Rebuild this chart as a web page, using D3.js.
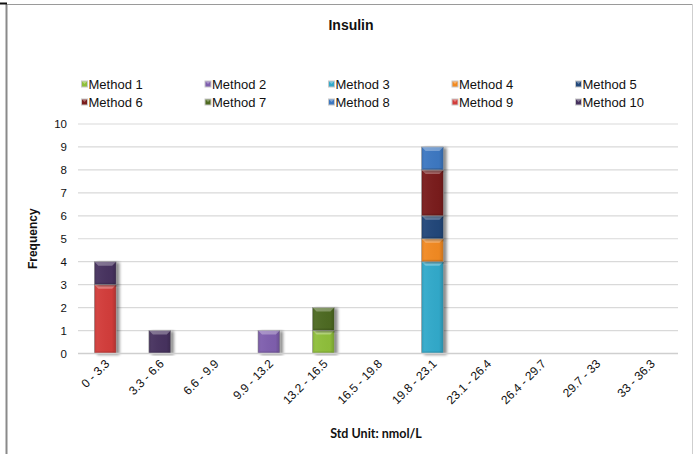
<!DOCTYPE html>
<html>
<head>
<meta charset="utf-8">
<script src="https://cdn.jsdelivr.net/npm/d3@7"></script>
<style>
  html, body { margin: 0; padding: 0; background: #fff; }
  svg { display: block; font-family: "Liberation Sans", Arial, sans-serif; }
</style>
</head>
<body>
<div id="chart"></div>
<script>
// data
const categories = ['0 - 3.3', '3.3 - 6.6', '6.6 - 9.9', '9.9 - 13.2', '13.2 - 16.5', '16.5 - 19.8',
    '19.8 - 23.1', '23.1 - 26.4', '26.4 - 29.7', '29.7 - 33', '33 - 36.3'];
const methods = ['Method 1', 'Method 2', 'Method 3', 'Method 4', 'Method 5',
    'Method 6', 'Method 7', 'Method 8', 'Method 9', 'Method 10'];
const method1  = [0, 0, 0, 0, 1, 0, 0, 0, 0, 0, 0];
const method2  = [0, 0, 0, 1, 0, 0, 0, 0, 0, 0, 0];
const method3  = [0, 0, 0, 0, 0, 0, 4, 0, 0, 0, 0];
const method4  = [0, 0, 0, 0, 0, 0, 1, 0, 0, 0, 0];
const method5  = [0, 0, 0, 0, 0, 0, 1, 0, 0, 0, 0];
const method6  = [0, 0, 0, 0, 0, 0, 2, 0, 0, 0, 0];
const method7  = [0, 0, 0, 0, 1, 0, 0, 0, 0, 0, 0];
const method8  = [0, 0, 0, 0, 0, 0, 1, 0, 0, 0, 0];
const method9  = [3, 0, 0, 0, 0, 0, 0, 0, 0, 0, 0];
const method10 = [1, 1, 0, 0, 0, 0, 0, 0, 0, 0, 0];
const yTicks = [0, 1, 2, 3, 4, 5, 6, 7, 8, 9, 10];

const colors = ['#8fbf3a', '#7f5fae', '#33aacb', '#f28a20', '#21477a',
    '#7a1d1d', '#4e6a20', '#3c78c2', '#d33d3a', '#46325e'];

const series = [method1, method2, method3, method4, method5, method6, method7, method8, method9, method10];
const table = categories.map((c, i) => {
    const row = { cat: c };
    methods.forEach((m, j) => row[m] = series[j][i]);
    return row;
});

const W = 697, H = 454;
const svg = d3.select('#chart').append('svg')
    .attr('width', W).attr('height', H);

const defs = svg.append('defs');
const shadow = defs.append('filter').attr('id', 'shadow')
    .attr('x', '-30%').attr('y', '-10%').attr('width', '170%').attr('height', '120%');
shadow.append('feGaussianBlur').attr('in', 'SourceAlpha').attr('stdDeviation', 1.8).attr('result', 'b');
shadow.append('feOffset').attr('in', 'b').attr('dx', 3).attr('dy', 1).attr('result', 'o');
shadow.append('feComponentTransfer').attr('in', 'o').attr('result', 's')
    .append('feFuncA').attr('type', 'linear').attr('slope', 0.45);
const merge = shadow.append('feMerge');
merge.append('feMergeNode').attr('in', 's');
merge.append('feMergeNode').attr('in', 'SourceGraphic');

const vGrad = defs.append('linearGradient').attr('id', 'vshade')
    .attr('x1', 0).attr('y1', 0).attr('x2', 1).attr('y2', 0);
vGrad.append('stop').attr('offset', '0%').attr('stop-color', '#000').attr('stop-opacity', 0.12);
vGrad.append('stop').attr('offset', '15%').attr('stop-color', '#fff').attr('stop-opacity', 0.04);
vGrad.append('stop').attr('offset', '80%').attr('stop-color', '#000').attr('stop-opacity', 0.02);
vGrad.append('stop').attr('offset', '100%').attr('stop-color', '#000').attr('stop-opacity', 0.18);

// frame
svg.append('line').attr('x1', 7).attr('x2', 692).attr('y1', 4.5).attr('y2', 4.5)
    .attr('stroke', '#9a9a9a').attr('stroke-width', 1);
svg.append('line').attr('x1', 6.5).attr('x2', 6.5).attr('y1', 4).attr('y2', H)
    .attr('stroke', '#8a8a8a').attr('stroke-width', 2);
svg.append('line').attr('x1', 692.5).attr('x2', 692.5).attr('y1', 4).attr('y2', H)
    .attr('stroke', '#cfcfcf').attr('stroke-width', 1);
svg.append('rect').attr('x', 0).attr('y', 2.5).attr('width', 7).attr('height', 2).attr('fill', '#111');

const margin = { left: 78, right: 678, top: 124, bottom: 353.5 };

const x = d3.scaleBand().domain(categories)
    .range([margin.left, margin.right]).paddingInner(0.6).paddingOuter(0.3);
const y = d3.scaleLinear().domain([0, 10]).range([margin.bottom, margin.top]);

// title
svg.append('text').attr('x', 351).attr('y', 30)
    .attr('text-anchor', 'middle').attr('font-weight', 'bold').attr('font-size', '14px')
    .attr('fill', '#111').text('Insulin');

// legend
const legend = svg.append('g');
methods.forEach((m, i) => {
    const lx = 81 + (i % 5) * 123.5;
    const ly = i < 5 ? 84 : 102;
    const g = legend.append('g').attr('transform', `translate(${lx},${ly})`);
    g.append('rect').attr('x', 0).attr('y', -3.5).attr('width', 7).attr('height', 7)
        .attr('fill', '#c8c8c8');
    g.append('rect').attr('x', 1).attr('y', -2.5).attr('width', 5).attr('height', 5)
        .attr('fill', colors[i]);
    g.append('path').attr('d', 'M1,-2.5 L6,-2.5 L3.5,0 Z').attr('fill', '#fff').attr('opacity', 0.35);
    g.append('text').attr('x', 7.5).attr('y', 4.5).attr('font-size', '13px').attr('fill', '#111').text(m);
});

// grid
svg.append('g')
    .selectAll('line').data(yTicks.filter(d => d > 0)).join('line')
    .attr('x1', margin.left).attr('x2', margin.right)
    .attr('y1', d => y(d)).attr('y2', d => y(d))
    .attr('stroke', '#d9d9d9').attr('stroke-width', 1.2);

// y axis
svg.append('g')
    .attr('transform', `translate(${margin.left},0)`)
    .call(d3.axisLeft(y).tickValues(yTicks).tickSize(0).tickPadding(11))
    .call(ax => {
        ax.select('.domain').remove();
        ax.selectAll('text').attr('font-size', '11.5px').attr('fill', '#111')
            .attr('font-family', '"Liberation Sans", Arial, sans-serif');
    });

svg.append('text')
    .attr('transform', `translate(37,${(margin.top + margin.bottom) / 2}) rotate(-90)`)
    .attr('text-anchor', 'middle').attr('font-weight', 'bold').attr('font-size', '12px')
    .attr('fill', '#111').text('Frequency');

// bars
const stack = d3.stack().keys(methods)(table);
const bw = x.bandwidth();
const layers = svg.append('g').attr('class', 'bars');

stack.forEach((layer, j) => {
    layer.forEach(seg => {
        const v = seg[1] - seg[0];
        if (v <= 0) return;
        const x0 = x(seg.data.cat);
        const yTop = y(seg[1]);
        const h = y(seg[0]) - y(seg[1]);
        const g = layers.append('g');
        g.append('rect').attr('x', x0).attr('y', yTop).attr('width', bw).attr('height', h)
            .attr('fill', colors[j]).attr('filter', 'url(#shadow)')
            .attr('stroke', '#9a9a9a').attr('stroke-width', 0.6);
        g.append('rect').attr('x', x0).attr('y', yTop).attr('width', bw).attr('height', h)
            .attr('fill', 'url(#vshade)');
        // top bevel
        const b = 4;
        g.append('path')
            .attr('d', `M${x0},${yTop} L${x0 + bw},${yTop} L${x0 + bw - b},${yTop + b} L${x0 + b},${yTop + b} Z`)
            .attr('fill', '#fff').attr('opacity', 0.3);
        // bottom bevel
        g.append('path')
            .attr('d', `M${x0},${yTop + h} L${x0 + bw},${yTop + h} L${x0 + bw - 2},${yTop + h - 2} L${x0 + 2},${yTop + h - 2} Z`)
            .attr('fill', '#000').attr('opacity', 0.12);
    });
});

// x axis
svg.append('line').attr('x1', margin.left).attr('x2', margin.right)
    .attr('y1', margin.bottom).attr('y2', margin.bottom)
    .attr('stroke', '#cfcfcf').attr('stroke-width', 1.5);

svg.append('g').selectAll('text').data(categories).join('text')
    .attr('transform', d => `translate(${x(d) + bw / 2 + 5},${margin.bottom + 11}) rotate(-45)`)
    .attr('text-anchor', 'end').attr('font-size', '12px').attr('fill', '#111')
    .text(d => d);

svg.append('text').attr('x', 376).attr('y', 438)
    .attr('text-anchor', 'middle').attr('font-weight', 'bold').attr('font-size', '12.5px')
    .attr('font-family', 'Lato, "Liberation Sans", sans-serif')
    .attr('fill', '#111').text('Std Unit: nmol/L');
</script>
</body>
</html>
